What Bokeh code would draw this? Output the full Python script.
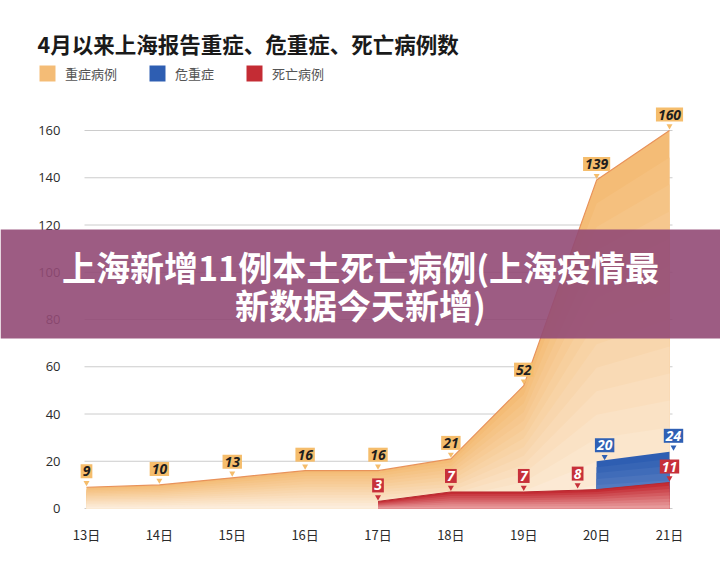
import numpy as np
from bokeh.plotting import figure
from bokeh.models import (Range1d, FixedTicker, BoxAnnotation, Label, Legend,
                          LegendItem, ColumnDataSource)
from bokeh.core.properties import value
from bokeh.embed import file_html
from bokeh.resources import INLINE

# ---------------- data ----------------
title_text = "4月以来上海报告重症、危重症、死亡病例数"
series_names = ["重症病例", "危重症", "死亡病例"]
days = ["13日", "14日", "15日", "16日", "17日", "18日", "19日", "20日", "21日"]
severe = [9, 10, 13, 16, 16, 21, 52, 139, 160]
critical_days = ["20日", "21日"]
critical = [20, 24]
death_days = ["17日", "18日", "19日", "20日", "21日"]
deaths = [3, 7, 7, 8, 11]
y_ticks = [0, 20, 40, 60, 80, 100, 120, 140, 160]
banner_lines = ["上海新增11例本土死亡病例(上海疫情最", "新数据今天新增)"]

CJK = "Noto Sans CJK SC"
NUM = "Open Sans"

xs = np.arange(len(days))
x_crit = np.array([days.index(d) for d in critical_days])
x_death = np.array([days.index(d) for d in death_days])

# canvas geometry: frame covers the whole width and everything above the x axis
W, H = 720, 568
FRAME_BOTTOM = 510
XPX = 72.875            # pixels per day
YPX = 2.3625            # pixels per case
X0_PX, Y0_PX = 86, 508  # page position of (13日, 0)

x_start = -X0_PX / XPX
x_end = x_start + W / XPX
y_start = -(FRAME_BOTTOM - Y0_PX) / YPX
y_end = y_start + FRAME_BOTTOM / YPX

p = figure(width=W, height=H, output_backend="svg", toolbar_location=None,
           x_range=Range1d(x_start, x_end), y_range=Range1d(y_start, y_end),
           min_border_left=0, min_border_right=0, min_border_top=0,
           min_border_bottom=H - FRAME_BOTTOM, background_fill_color="white",
           border_fill_color="white")
p.outline_line_color = None
p.title.visible = False

# grid lines limited to the plotting area (84px .. 672px)
gx0 = xs[0] - 2 / XPX
gx1 = xs[-1] + 3 / XPX
p.segment(x0=gx0, x1=gx1, y0=y_ticks, y1=y_ticks, line_color="#cccccc",
          line_width=1)


def hexc(c):
    return "#%02x%02x%02x" % tuple(int(round(v)) for v in c)


def gradient_area(x, vals, top, bottom, n=14):
    """Stack of areas from 0 up to a fraction of the values, darkest on top."""
    vals = np.asarray(vals, float)
    top = np.array(top, float)
    bottom = np.array(bottom, float)
    rends = []
    for i in range(n, 0, -1):
        f = i / n
        c = bottom + (top - bottom) * f
        r = p.varea(x=x, y1=0, y2=vals * f, fill_color=hexc(c), fill_alpha=1)
        rends.append(r)
    return rends


# orange area (severe)
sev_r = gradient_area(xs, severe, (244, 188, 118), (253, 241, 228))
p.line(xs, severe, line_color="#e8925a", line_width=1.2)

# blue area (critical)
crit_r = gradient_area(x_crit, critical, (46, 94, 178), (120, 150, 205), n=8)

# red area (deaths)
death_r = gradient_area(x_death, deaths, (196, 44, 52), (236, 170, 170), n=8)
p.line(x_death, deaths, line_color="#b8272f", line_width=1)

# ---------------- axes ----------------
p.xaxis.ticker = FixedTicker(ticks=list(xs))
p.xaxis.major_label_overrides = {int(i): d for i, d in zip(xs, days)}
p.yaxis.ticker = FixedTicker(ticks=y_ticks)
for ax in (p.xaxis, p.yaxis):
    ax.axis_line_color = None
    ax.major_tick_line_color = None
    ax.minor_tick_line_color = None
    ax.major_tick_in = 0
    ax.major_tick_out = 0
    ax.major_label_text_color = "#2b2b2b"
    ax.major_label_text_font_size = "13px"
p.xaxis.major_label_text_font = CJK
p.yaxis.major_label_text_font = NUM
p.yaxis.major_label_standoff = -60   # labels drawn inside, right edge at 60px
p.xaxis.major_label_standoff = 14
p.xgrid.visible = False
p.ygrid.visible = False

# ---------------- value callouts ----------------


def callouts(x, vals, bg, fg, x_off=None):
    vals = np.asarray(vals, float)
    if x_off is None:
        x_off = [0] * len(vals)
    src = ColumnDataSource(dict(x=x, y=vals, t=[str(int(v)) for v in vals],
                                xo=x_off))
    p.scatter(x=np.asarray(x) + np.asarray(x_off) / XPX,
              y=vals + 4.5 / YPX, marker="inverted_triangle", size=6,
              fill_color=bg, line_color=None)
    p.text(x="x", y="y", text="t", source=src, x_offset="xo", y_offset=-16,
           text_align="center", text_baseline="middle",
           text_font=value(NUM), text_font_style="bold italic",
           text_font_size="14px", text_color=fg,
           background_fill_color=bg, padding=2)


callouts(xs, severe, "#f5bd6c", "#1e1e1e")
callouts(x_crit, critical, "#2f60b4", "white", x_off=[8, 4])
callouts(x_death, deaths, "#c7303a", "white", x_off=[0, 0, 0, -19, 0])

# ---------------- title & legend ----------------
p.add_layout(Label(x=37, y=FRAME_BOTTOM - 43, x_units="screen",
                   y_units="screen", text=title_text, text_font=CJK,
                   text_font_style="bold", text_font_size="21.5px",
                   text_color="#1a1a1a", text_baseline="middle"))

legend = Legend(items=[LegendItem(label=series_names[0], renderers=[sev_r[0]]),
                       LegendItem(label=series_names[1], renderers=[crit_r[0]]),
                       LegendItem(label=series_names[2], renderers=[death_r[0]])],
                orientation="horizontal", location=(37, FRAME_BOTTOM - 83),
                glyph_width=20, glyph_height=20, label_standoff=8, spacing=30,
                padding=0, margin=0, border_line_color=None,
                background_fill_alpha=0, label_text_font=CJK,
                label_text_font_size="13px", label_text_color="#555555",
                label_height=20)
p.add_layout(legend)

# ---------------- banner overlay ----------------
p.add_layout(BoxAnnotation(left=0, right=W, bottom=FRAME_BOTTOM - 338,
                           top=FRAME_BOTTOM - 229,
                           left_units="screen", right_units="screen",
                           bottom_units="screen", top_units="screen",
                           fill_color="#924a76", fill_alpha=0.9,
                           line_color=None, level="overlay"))
for txt, yy in zip(banner_lines, [266, 304]):
    p.add_layout(Label(x=W / 2, y=FRAME_BOTTOM - yy, x_units="screen",
                       y_units="screen", text=txt, text_font=CJK,
                       text_font_style="bold", text_font_size="34px",
                       text_color="white", text_align="center",
                       text_baseline="middle", level="overlay"))

open("out.html", "w").write(file_html(p, INLINE))
